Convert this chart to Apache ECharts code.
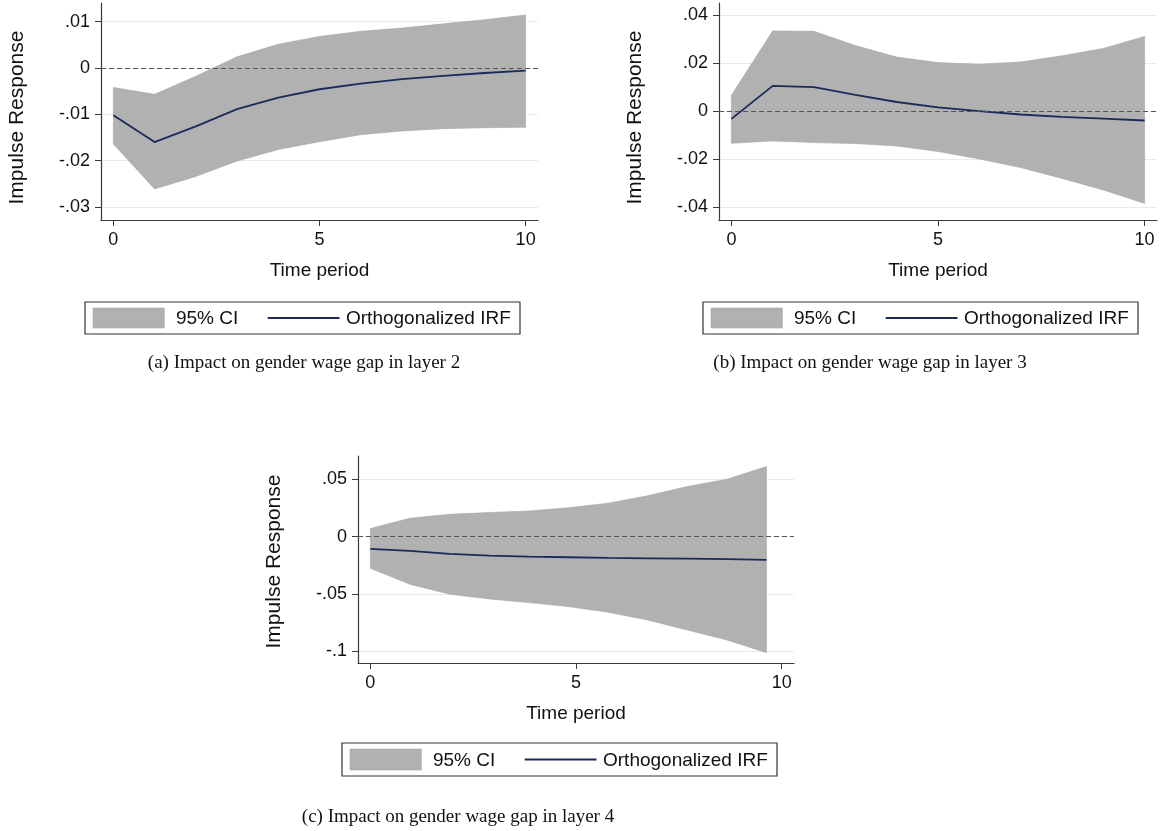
<!DOCTYPE html>
<html>
<head>
<meta charset="utf-8">
<script src="https://cdn.jsdelivr.net/npm/echarts@6/dist/echarts.min.js"></script>
<style>
html,body{margin:0;padding:0;background:#fff;}
#c{width:1163px;height:831px;}
</style>
</head>
<body>
<div id="c"></div>
<script>
// ---------- data ----------
const periodsA = [0, 1, 2, 3, 4, 5, 6, 7, 8, 9, 10];
const irfA   = [-0.0102, -0.0160, -0.0126, -0.0089, -0.0064, -0.0046, -0.0034, -0.0024, -0.0017, -0.0011, -0.0006];
const upperA = [-0.0042, -0.0057, -0.0018, 0.0024, 0.0051, 0.0068, 0.0079, 0.0086, 0.0095, 0.0104, 0.0114];
const lowerA = [-0.0164, -0.0261, -0.0234, -0.0201, -0.0176, -0.0159, -0.0144, -0.0136, -0.0131, -0.0129, -0.0128];

const periodsB = [0, 1, 2, 3, 4, 5, 6, 7, 8, 9, 10];
const irfB   = [-0.0033, 0.0104, 0.0099, 0.0067, 0.0037, 0.0015, -0.0001, -0.0015, -0.0025, -0.0032, -0.0040];
const upperB = [0.0065, 0.0333, 0.0331, 0.0272, 0.0224, 0.0201, 0.0194, 0.0204, 0.0229, 0.0260, 0.0310];
const lowerB = [-0.0135, -0.0125, -0.0132, -0.0136, -0.0146, -0.0169, -0.0200, -0.0236, -0.0281, -0.0329, -0.0385];

const periodsC = [0, 0.96, 1.93, 2.89, 3.85, 4.81, 5.78, 6.74, 7.70, 8.67, 9.63];
const irfC   = [-0.0108, -0.0125, -0.0152, -0.0166, -0.0175, -0.0181, -0.0187, -0.0190, -0.0192, -0.0198, -0.0204];
const upperC = [0.0070, 0.0160, 0.0195, 0.0210, 0.0224, 0.0251, 0.0292, 0.0356, 0.0437, 0.0501, 0.0612];
const lowerC = [-0.0277, -0.0417, -0.0504, -0.0545, -0.0577, -0.0612, -0.0662, -0.0729, -0.0816, -0.0904, -0.1015];

const xTicks = [0, 5, 10];
const xTickLabels = ['0', '5', '10'];
const yTicksA = [-0.03, -0.02, -0.01, 0, 0.01];
const yLabelsA = ['-.03', '-.02', '-.01', '0', '.01'];
const yTicksB = [-0.04, -0.02, 0, 0.02, 0.04];
const yLabelsB = ['-.04', '-.02', '0', '.02', '.04'];
const yTicksC = [-0.1, -0.05, 0, 0.05];
const yLabelsC = ['-.1', '-.05', '0', '.05'];

const legendLabels = ['95% CI', 'Orthogonalized IRF'];
const captions = ['(a) Impact on gender wage gap in layer 2', '(b) Impact on gender wage gap in layer 3', '(c) Impact on gender wage gap in layer 4'];
const xTitle = 'Time period';
const yTitle = 'Impulse Response';

// ---------- styles ----------
const SANS = '"Liberation Sans", Arial, sans-serif';
const SERIF = '"Liberation Serif", "DejaVu Serif", serif';
const AXIS = '#3a3a3a';
const GRIDC = '#e1edf0';
const BAND = '#b1b1b1';
const NAVY = '#1b2a5c';

const panels = [
  {grid:{left:101, right:625, top:3, bottom:611}, xs:periodsA, irf:irfA, up:upperA, lo:lowerA, ymin:-0.0328, ymax:0.0140, yt:yTicksA, yl:yLabelsA, tpad:12},
  {grid:{left:719, right:6, top:3, bottom:611}, xs:periodsB, irf:irfB, up:upperB, lo:lowerB, ymin:-0.0454, ymax:0.0449, yt:yTicksB, yl:yLabelsB, tpad:12},
  {grid:{left:358, right:369, top:456, bottom:168}, xs:periodsC, irf:irfC, up:upperC, lo:lowerC, ymin:-0.1105, ymax:0.0704, yt:yTicksC, yl:yLabelsC, tpad:4}
];

const grids = [], xAxes = [], yAxes = [], series = [];
panels.forEach((p, i) => {
  grids.push(Object.assign({containLabel:false}, p.grid));
  xAxes.push({
    type:'value', gridIndex:i, min:-0.3, max:10.3,
    axisLine:{show:true, onZero:false, lineStyle:{color:AXIS, width:1.2}},
    axisTick:{show:true, length:6, customValues:xTicks, lineStyle:{color:AXIS}},
    axisLabel:{customValues:xTicks, margin:11, color:'#111', fontFamily:SANS, fontSize:18,
      formatter:v => xTickLabels[xTicks.indexOf(v)] ?? String(v)},
    splitLine:{show:false},
    name:xTitle, nameLocation:'middle', nameGap:41,
    nameTextStyle:{color:'#111', fontFamily:SANS, fontSize:19}
  });
  const yt = p.yt, yl = p.yl;
  yAxes.push({
    type:'value', gridIndex:i, min:p.ymin, max:p.ymax,
    axisLine:{show:true, onZero:false, lineStyle:{color:AXIS, width:1.2}},
    axisTick:{show:true, length:6, customValues:yt, lineStyle:{color:AXIS}},
    axisLabel:{customValues:yt, margin:11, color:'#111', fontFamily:SANS, fontSize:18,
      formatter:v => {
        let best = 0, bd = Infinity;
        yt.forEach((t, k) => { const d = Math.abs(t - v); if (d < bd) { bd = d; best = k; } });
        return yl[best];
      }},
    splitLine:{show:true, lineStyle:{color:GRIDC, width:1.2}},
    name:yTitle, nameLocation:'middle', nameGap:73,
    nameTextStyle:{color:'#111', fontFamily:SANS, fontSize:21, padding:[0, p.tpad, 0, 0]}
  });
  const xs = p.xs, up = p.up, lo = p.lo;
  series.push({
    type:'custom', name:legendLabels[0], xAxisIndex:i, yAxisIndex:i,
    data: xs.map((x, k) => [x, lo[k], up[k]]),
    encode:{x:0, y:[1, 2]},
    renderItem:(params, api) => {
      if (params.dataIndex !== 0) return null;
      const pts = [];
      for (let k = 0; k < xs.length; k++) pts.push(api.coord([xs[k], up[k]]));
      for (let k = xs.length - 1; k >= 0; k--) pts.push(api.coord([xs[k], lo[k]]));
      return {type:'polygon', shape:{points:pts}, style:{fill:BAND, stroke:'#a6a6a6', lineWidth:0.6}};
    },
    silent:true, z:1
  });
  series.push({
    type:'line', name:legendLabels[1], xAxisIndex:i, yAxisIndex:i,
    data: xs.map((x, k) => [x, p.irf[k]]),
    showSymbol:false, symbol:'none', silent:true,
    lineStyle:{color:NAVY, width:1.8}, z:3,
    markLine:{silent:true, symbol:['none','none'], label:{show:false},
      lineStyle:{color:'#555', type:[5,3], width:1},
      data:[{yAxis:0}]}
  });
});

// legends & captions drawn as graphics
const legendBoxes = [
  {x:85, y:302, w:435, h:32},
  {x:703, y:302, w:435, h:32},
  {x:342, y:743, w:435, h:33}
];
const captionPos = [{x:304, y:363}, {x:870, y:363}, {x:458, y:817}];
const graphics = [];
legendBoxes.forEach((b, i) => {
  graphics.push({type:'rect', shape:{x:b.x, y:b.y, width:b.w, height:b.h}, style:{fill:'#fff', stroke:'#333', lineWidth:1.2}});
  graphics.push({type:'rect', shape:{x:b.x + 8, y:b.y + 6, width:b.w * 0.164, height:b.h - 12}, style:{fill:BAND, stroke:'#a6a6a6', lineWidth:0.6}});
  graphics.push({type:'text', style:{x:b.x + b.w * 0.209, y:b.y + b.h / 2 + 1, text:legendLabels[0], fill:'#111', font:'19px ' + SANS, textVerticalAlign:'middle'}});
  graphics.push({type:'line', shape:{x1:b.x + b.w * 0.42, y1:b.y + b.h / 2, x2:b.x + b.w * 0.585, y2:b.y + b.h / 2}, style:{stroke:NAVY, lineWidth:1.8}});
  graphics.push({type:'text', style:{x:b.x + b.w * 0.6, y:b.y + b.h / 2 + 1, text:legendLabels[1], fill:'#111', font:'19px ' + SANS, textVerticalAlign:'middle'}});
  graphics.push({type:'text', style:{x:captionPos[i].x, y:captionPos[i].y, text:captions[i], fill:'#111', font:'19px ' + SERIF, textAlign:'center', textVerticalAlign:'middle'}});
});

const chart = echarts.init(document.getElementById('c'), null, {renderer:'canvas'});
chart.setOption({
  animation:false,
  backgroundColor:'#fff',
  grid:grids, xAxis:xAxes, yAxis:yAxes, series:series,
  graphic:graphics
});
</script>
</body>
</html>
